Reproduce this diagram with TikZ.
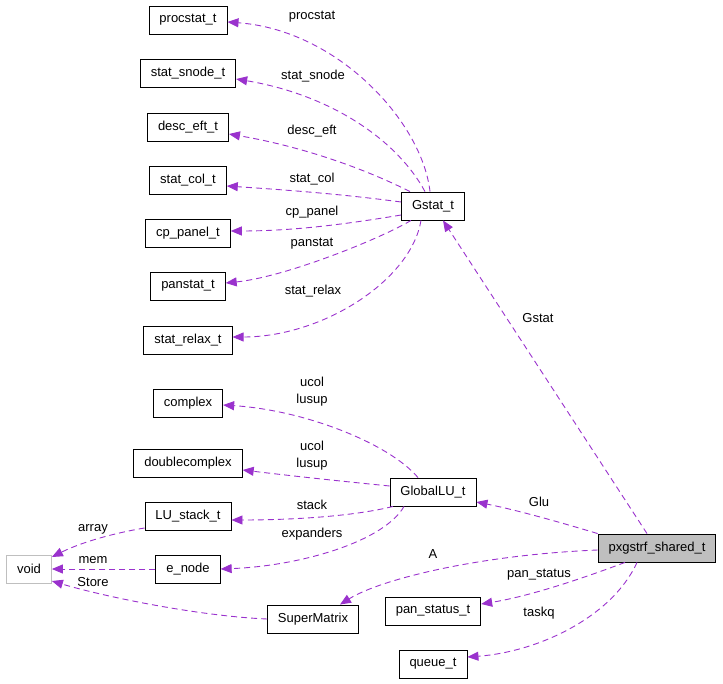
\documentclass[tikz,border=0pt]{standalone}
\usepackage{fontspec}
\setmainfont{Liberation Sans}
\usetikzlibrary{arrows.meta}
\definecolor{orel}{HTML}{9A32CD}
\definecolor{ogray}{HTML}{BFBFBF}

\begin{document}
\begin{tikzpicture}[x=1pt,y=-1pt,
   cls/.style={draw=black,line width=0.9pt,rectangle,minimum height=28pt,inner xsep=10.5pt,
               font=\fontsize{13}{17}\selectfont},
   rel/.style={draw=orel,line width=0.9pt,dash pattern=on 6pt off 4pt,
               -{Triangle[length=11pt,width=9pt,fill=orel]}},
   lab/.style={font=\fontsize{13}{17}\selectfont,inner sep=0pt,align=center}]
\useasboundingbox (0,0) rectangle (723,684);

%%%% classes
\node[cls] (procstat) at (188,20) {procstat\_t};
\node[cls] (ssnode) at (188,73) {stat\_snode\_t};
\node[cls] (desceft) at (188,127) {desc\_eft\_t};
\node[cls] (statcol) at (188,180) {stat\_col\_t};
\node[cls] (cppanel) at (188,233) {cp\_panel\_t};
\node[cls] (panstat) at (188,286) {panstat\_t};
\node[cls] (srelax) at (188,340) {stat\_relax\_t};
\node[cls] (gstat) at (433,206) {Gstat\_t};

\node[cls] (complex) at (188,403) {complex};
\node[cls] (dcomplex) at (188,463) {doublecomplex};
\node[cls] (lustack) at (188,516) {LU\_stack\_t};
\node[cls] (enode) at (188,569) {e\_node};
\node[cls,draw=ogray] (void) at (29,569) {void};
\node[cls] (smatrix) at (313,619) {SuperMatrix};
\node[cls] (glu) at (433,492) {GlobalLU\_t};
\node[cls] (pstatus) at (433,611) {pan\_status\_t};
\node[cls] (queue) at (433,664) {queue\_t};
\node[cls,fill=ogray] (shared) at (657,548) {pxgstrf\_shared\_t};

%%%% Gstat_t members
\draw[rel] ([xshift=-3pt]gstat.north) .. controls +(-8,-70) and +(110,8) .. ([yshift=-2pt]procstat.east);
\draw[rel] ([xshift=-8pt]gstat.north) .. controls +(-30,-55) and +(90,15) .. ([yshift=-6pt]ssnode.east);
\draw[rel] ([xshift=-23pt]gstat.north) .. controls +(-50,-25) and +(70,12) .. ([yshift=-7pt]desceft.east);
\draw[rel] ([yshift=4pt]gstat.west) .. controls +(-60,-8) and +(60,4) .. ([yshift=-6pt]statcol.east);
\draw[rel] ([yshift=-9pt]gstat.west) .. controls +(-60,10) and +(60,0) .. ([yshift=2pt]cppanel.east);
\draw[rel] ([xshift=-22pt]gstat.south) .. controls +(-30,18) and +(60,-6) .. ([yshift=3pt]panstat.east);
\draw[rel] ([xshift=-12pt]gstat.south) .. controls +(-10,60) and +(90,0) .. ([yshift=3pt]srelax.east);

%%%% GlobalLU_t members
\draw[rel] ([xshift=-15pt]glu.north) .. controls +(-30,-35) and +(80,5) .. ([yshift=-2pt]complex.east);
\draw[rel] ([yshift=6pt]glu.west) .. controls +(-60,-6) and +(50,6) .. ([yshift=-7pt]dcomplex.east);
\draw[rel] ([xshift=-40pt]glu.south) .. controls +(-40,10) and +(60,0) .. ([yshift=-4pt]lustack.east);
\draw[rel] ([xshift=-29pt]glu.south) .. controls +(-20,35) and +(80,-3) .. (enode.east);

%%%% void
\draw[rel] ([yshift=-12pt]lustack.west) .. controls +(-30,5) and +(30,-15) .. ([yshift=12pt]void.east);
\draw[rel] (enode.west) -- (void.east);
\draw[rel] (smatrix.west) .. controls +(-70,-3) and +(50,15) .. ([yshift=-12pt]void.east);

%%%% pxgstrf_shared_t members
\draw[rel] ([xshift=-10pt]shared.north) -- ([xshift=10pt]gstat.south);
\draw[rel] (shared.north west) .. controls +(-40,-12) and +(40,8) .. ([yshift=-10pt]glu.east);
\draw[rel] ([yshift=-2pt]shared.west) .. controls +(-120,5) and +(40,-25) .. ([xshift=27pt]smatrix.north);
\draw[rel] ([xshift=-32pt]shared.south) .. controls +(-40,15) and +(50,-8) .. ([yshift=7pt]pstatus.east);
\draw[rel] ([xshift=-20pt]shared.south) .. controls +(-25,55) and +(70,-5) .. ([yshift=7pt]queue.east);

%%%% labels
\node[lab] (l-procstat) at (312,17) {procstat};
\node[lab] (l-ssnode) at (313,76) {stat\_snode};
\node[lab] (l-desceft) at (312,131) {desc\_eft};
\node[lab] (l-statcol) at (312,179) {stat\_col};
\node[lab] (l-cppanel) at (312,212) {cp\_panel};
\node[lab] (l-panstat) at (312,244) {panstat};
\node[lab] (l-srelax) at (313,291) {stat\_relax};
\node[lab] (l-gstat) at (538,318) {Gstat};
\node[lab] (l-complex) at (312,392) {ucol\\lusup};
\node[lab] (l-dcomplex) at (312,456) {ucol\\lusup};
\node[lab] (l-stack) at (312,505) {stack};
\node[lab] (l-expanders) at (312,534) {expanders};
\node[lab] (l-array) at (93,529) {array};
\node[lab] (l-mem) at (93,560) {mem};
\node[lab] (l-store) at (93,582) {Store};
\node[lab] (l-a) at (433,554) {A};
\node[lab] (l-glu) at (539,502) {Glu};
\node[lab] (l-pstatus) at (539,575) {pan\_status};
\node[lab] (l-taskq) at (539,613) {taskq};
\end{tikzpicture}
\end{document}
